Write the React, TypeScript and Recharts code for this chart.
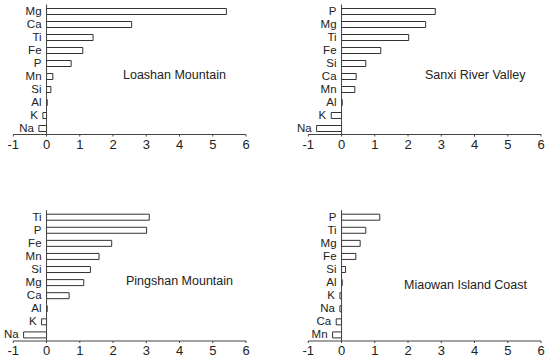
import React from "react";
import { BarChart, Bar, XAxis, YAxis, ReferenceLine } from "recharts";

// element labels per site (top to bottom)
const loashanEls = ["Mg", "Ca", "Ti", "Fe", "P", "Mn", "Si", "Al", "K", "Na"];
const loashanVals = [5.41, 2.56, 1.4, 1.09, 0.74, 0.19, 0.13, 0.02, -0.11, -0.23];

const sanxiEls = ["P", "Mg", "Ti", "Fe", "Si", "Ca", "Mn", "Al", "K", "Na"];
const sanxiVals = [2.82, 2.53, 2.02, 1.18, 0.73, 0.44, 0.4, 0.02, -0.31, -0.75];

const pingshanEls = ["Ti", "P", "Fe", "Mn", "Si", "Mg", "Ca", "Al", "K", "Na"];
const pingshanVals = [3.09, 3.01, 1.96, 1.58, 1.32, 1.12, 0.68, 0.02, -0.15, -0.69];

const miaowanEls = ["P", "Ti", "Mg", "Fe", "Si", "Al", "K", "Na", "Ca", "Mn"];
const miaowanVals = [1.15, 0.73, 0.56, 0.43, 0.12, 0.02, -0.05, -0.05, -0.16, -0.27];

const xTicks = [-1, 0, 1, 2, 3, 4, 5, 6];

const FONT = "'Liberation Sans', Arial, sans-serif";
const INK = "#222";
const AXIS = "#444";

interface PanelProps {
  els: string[];
  vals: number[];
  title: string;
  left: number;
  top: number;
  margin: { top: number; right: number; bottom: number; left: number };
  xAxisHeight: number;
  titleX: number;
  titleY: number;
}

function Panel(props: PanelProps) {
  const { els, vals, title, left, top, margin, xAxisHeight, titleX, titleY } = props;
  const data = els.map((el, i) => ({ el, value: vals[i] }));
  const W = 275;
  const yW = 1;
  const plotLeft = margin.left;
  const plotW = W - margin.left - margin.right;
  // linear x scale of the plot (domain -1..6), used to put element names
  // just left of each bar (or of the axis when the bar is positive)
  const unit = plotW / 7;
  const xOf = (v: number) => plotLeft + (v + 1) * unit;

  const renderElTick = (p: any) => {
    const v = vals[p.index] ?? 0;
    return (
      <text
        key={p.index}
        x={xOf(Math.min(0, v)) - 5}
        y={p.y}
        dy={4}
        textAnchor="end"
        fontSize={11.5}
        fontFamily={FONT}
        fill={INK}
      >
        {p.payload.value}
      </text>
    );
  };

  return (
    <div style={{ position: "absolute", left, top, width: W, height: 180 }}>
      <BarChart
        width={W}
        height={180}
        data={data}
        layout="vertical"
        margin={{ ...margin, left: margin.left - yW }}
      >
        <XAxis
          type="number"
          domain={[-1, 6]}
          ticks={xTicks}
          height={xAxisHeight}
          stroke={AXIS}
          tickSize={2}
          tick={{ fontSize: 13, fontFamily: FONT, fill: INK }}
          tickMargin={3}
          allowDataOverflow
        />
        <YAxis
          type="category"
          dataKey="el"
          width={yW}
          axisLine={false}
          tickLine={false}
          tick={renderElTick}
          interval={0}
        />
        <ReferenceLine x={0} stroke={AXIS} strokeWidth={1} />
        <Bar
          dataKey="value"
          fill="#fff"
          stroke="#333"
          strokeWidth={1}
          barSize={6}
          isAnimationActive={false}
        />
      </BarChart>
      <div
        style={{
          position: "absolute",
          left: titleX,
          top: titleY - 8,
          fontFamily: FONT,
          fontSize: 12.5,
          color: INK,
          whiteSpace: "nowrap",
          lineHeight: "16px",
        }}
      >
        {title}
      </div>
    </div>
  );
}

export default function App() {
  return (
    <div
      style={{
        position: "absolute",
        left: 0,
        top: 0,
        width: 550,
        height: 360,
        background: "#fff",
      }}
    >
      <Panel
        els={loashanEls}
        vals={loashanVals}
        title="Loashan Mountain"
        left={0}
        top={0}
        margin={{ top: 4.5, right: 29, bottom: 15.5, left: 13.3 }}
        xAxisHeight={30}
        titleX={123}
        titleY={75}
      />
      <Panel
        els={sanxiEls}
        vals={sanxiVals}
        title="Sanxi River Valley"
        left={275}
        top={0}
        margin={{ top: 4.5, right: 9, bottom: 15.5, left: 33.3 }}
        xAxisHeight={30}
        titleX={150}
        titleY={75}
      />
      <Panel
        els={pingshanEls}
        vals={pingshanVals}
        title="Pingshan Mountain"
        left={0}
        top={180}
        margin={{ top: 30.2, right: 29, bottom: 0, left: 13.3 }}
        xAxisHeight={19}
        titleX={126}
        titleY={101}
      />
      <Panel
        els={miaowanEls}
        vals={miaowanVals}
        title="Miaowan Island Coast"
        left={275}
        top={180}
        margin={{ top: 30.2, right: 9, bottom: 0, left: 33.3 }}
        xAxisHeight={19}
        titleX={129}
        titleY={105}
      />
    </div>
  );
}
